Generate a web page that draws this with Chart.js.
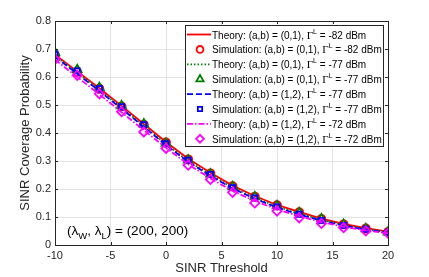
<!DOCTYPE html>
<html>
<head>
<meta charset="utf-8">
<script src="https://cdn.jsdelivr.net/npm/chart.js@4.4.1/dist/chart.umd.min.js"></script>
<style>
  html, body { margin: 0; padding: 0; background: #fff; }
  #wrap { width: 429px; height: 277px; }
</style>
</head>
<body>
<div id="wrap"><canvas id="c" width="429" height="277"></canvas></div>
<script>
// SINR thresholds (dB)
const thresholds = [-10, -8, -6, -4, -2, 0, 2, 4, 6, 8, 10, 12, 14, 16, 18, 20]

// (a,b)=(0,1), Gamma^L = -82 dBm
const theory01_82 = [0.680, 0.620, 0.560, 0.497, 0.432, 0.368, 0.308, 0.258, 0.212, 0.175, 0.143, 0.118, 0.094, 0.075, 0.060, 0.048]
const sim01_82 = [0.678, 0.618, 0.558, 0.495, 0.430, 0.366, 0.306, 0.256, 0.210, 0.173, 0.142, 0.117, 0.093, 0.074, 0.059, 0.047]
// (a,b)=(0,1), -77 dBm
const theory01_77 = [0.675, 0.615, 0.553, 0.490, 0.425, 0.360, 0.300, 0.250, 0.205, 0.168, 0.137, 0.112, 0.090, 0.071, 0.057, 0.045]
const sim01_77 = [0.686, 0.626, 0.562, 0.497, 0.432, 0.363, 0.303, 0.253, 0.208, 0.172, 0.140, 0.115, 0.093, 0.073, 0.058, 0.046]
// (a,b)=(1,2), -77 dBm
const theory12_77 = [0.672, 0.612, 0.550, 0.487, 0.422, 0.357, 0.297, 0.247, 0.202, 0.165, 0.134, 0.109, 0.087, 0.069, 0.055, 0.044]
const sim12_77 = [0.682, 0.622, 0.558, 0.494, 0.430, 0.362, 0.303, 0.252, 0.205, 0.168, 0.136, 0.110, 0.088, 0.070, 0.056, 0.045]
// (a,b)=(1,2), -72 dBm
const theory12_72 = [0.662, 0.600, 0.538, 0.474, 0.410, 0.347, 0.288, 0.238, 0.193, 0.157, 0.127, 0.103, 0.082, 0.065, 0.052, 0.042]
const sim12_72 = [0.663, 0.606, 0.540, 0.476, 0.404, 0.345, 0.285, 0.234, 0.188, 0.150, 0.121, 0.097, 0.077, 0.062, 0.050, 0.042]

const legendTexts = [
    ['Theory: (a,b) = (0,1), ', ' = -82 dBm'],
    ['Simulation: (a,b) = (0,1), ', ' = -82 dBm'],
    ['Theory: (a,b) = (0,1), ', ' = -77 dBm'],
    ['Simulation: (a,b) = (0,1), ', ' = -77 dBm'],
    ['Theory: (a,b) = (1,2), ', ' = -77 dBm'],
    ['Simulation: (a,b) = (1,2), ', ' = -77 dBm'],
    ['Theory: (a,b) = (1,2), ', ' = -72 dBm'],
    ['Simulation: (a,b) = (1,2), ', ' = -72 dBm']
]

const RED = '#ff0000', GREEN = '#008000', BLUE = '#0000ff', MAG = '#ff00ff'
const FONT = '"Liberation Sans", Arial, sans-serif'

function pts(ys) {
    return thresholds.map((x, i) => ({ x: x, y: ys[i] }))
}

function lineSet(label, ys, color, dash) {
    return {
        label: label, data: pts(ys), borderColor: color, backgroundColor: color,
        showLine: true, borderWidth: 1.8, borderDash: dash, pointRadius: 0, tension: 0, fill: false
    }
}

function markSet(label, ys, color, style, r) {
    return {
        label: label, data: pts(ys), borderColor: color, backgroundColor: 'transparent',
        showLine: false, pointStyle: style, pointRadius: r, pointBorderWidth: 1.8,
        pointBorderColor: color, pointBackgroundColor: 'transparent'
    }
}

const datasets = [
    lineSet('theory01_82', theory01_82, RED, []),
    markSet('sim01_82', sim01_82, RED, 'circle', 4),
    lineSet('theory01_77', theory01_77, GREEN, [1.5, 2]),
    markSet('sim01_77', sim01_77, GREEN, 'triangle', 5),
    lineSet('theory12_77', theory12_77, BLUE, [6, 3]),
    markSet('sim12_77', sim12_77, BLUE, 'rect', 3.6),
    lineSet('theory12_72', theory12_72, MAG, [6, 2, 1.5, 2]),
    markSet('sim12_72', sim12_72, MAG, 'rectRot', 4.6)
]
// first dataset drawn at the bottom, like matlab
datasets.forEach((d, i) => { d.order = datasets.length - i })

// box, inner ticks, annotation and legend
const extras = {
    id: 'extras',
    afterDraw(chart) {
        const ctx = chart.ctx
        const a = chart.chartArea
        const xs = chart.scales.x, ys = chart.scales.y
        ctx.save()

        // axes box
        ctx.strokeStyle = '#262626'
        ctx.lineWidth = 1
        ctx.setLineDash([])
        ctx.strokeRect(Math.round(a.left) + 0.5, Math.round(a.top) + 0.5,
            Math.round(a.right - a.left), Math.round(a.bottom - a.top))

        // inward tick marks
        ctx.beginPath()
        xs.ticks.forEach(t => {
            const px = Math.round(xs.getPixelForValue(t.value)) + 0.5
            ctx.moveTo(px, a.bottom); ctx.lineTo(px, a.bottom - 3)
            ctx.moveTo(px, a.top); ctx.lineTo(px, a.top + 3)
        })
        ys.ticks.forEach(t => {
            const py = Math.round(ys.getPixelForValue(t.value)) + 0.5
            ctx.moveTo(a.left, py); ctx.lineTo(a.left + 3, py)
            ctx.moveTo(a.right, py); ctx.lineTo(a.right - 3, py)
        })
        ctx.stroke()

        // (lambda_W, lambda_L) = (200, 200)
        ctx.fillStyle = '#000'
        ctx.textBaseline = 'alphabetic'
        let x = 67, y = 235
        const put = (s, f, dy) => {
            ctx.font = f
            ctx.fillText(s, x, y + (dy || 0))
            x += ctx.measureText(s).width
        }
        put('(', '13.5px ' + FONT)
        put('λ', '13.5px ' + FONT)
        put('W', '9.5px ' + FONT, 4)
        put(', ', '13.5px ' + FONT)
        put('λ', '13.5px ' + FONT)
        put('L', '9.5px ' + FONT, 4)
        put(') = (200, 200)', '13.5px ' + FONT)

        // legend
        const lx = 185.5, ly = 25.5, lw = 198, lh = 121
        ctx.fillStyle = '#fff'
        ctx.fillRect(lx, ly, lw, lh)
        ctx.strokeStyle = '#262626'
        ctx.lineWidth = 1
        ctx.strokeRect(lx, ly, lw, lh)

        legendTexts.forEach((txt, i) => {
            const ds = datasets[i]
            const cy = 34.5 + i * 14.9
            ctx.strokeStyle = ds.borderColor
            ctx.lineWidth = 1.8
            if (ds.showLine === false) {
                ctx.fillStyle = 'rgba(0,0,0,0)'
                Chart.helpers.drawPoint(ctx, {
                    pointStyle: ds.pointStyle, radius: ds.pointRadius * 0.85,
                    rotation: 0, borderWidth: 1.8
                }, 200, cy)
            } else {
                ctx.setLineDash(ds.borderDash)
                ctx.beginPath()
                ctx.moveTo(187, cy); ctx.lineTo(211, cy)
                ctx.stroke()
                ctx.setLineDash([])
            }
            ctx.fillStyle = '#000'
            x = 212; y = cy + 4
            put(txt[0], '10px ' + FONT)
            put('Γ', '11px "Liberation Serif", "DejaVu Serif", serif')
            put('L', '7px ' + FONT, -5)
            put(txt[1], '10px ' + FONT)
        })

        ctx.restore()
    }
}

new Chart(document.getElementById('c'), {
    type: 'scatter',
    data: { datasets: datasets },
    plugins: [extras],
    options: {
        responsive: false,
        animation: false,
        layout: { padding: { top: 21, right: 41, left: 0, bottom: 0 } },
        plugins: { legend: { display: false }, tooltip: { enabled: false } },
        scales: {
            x: {
                type: 'linear', min: -10, max: 20,
                ticks: { stepSize: 5, color: '#262626', font: { family: FONT, size: 11 }, padding: 4 },
                grid: { color: '#e3e3e3', drawTicks: false },
                border: { display: false },
                title: { display: true, text: 'SINR Threshold', color: '#262626', font: { family: FONT, size: 13 }, padding: { top: 0, bottom: 1 } },
                afterFit(s) { s.height = 32 }
            },
            y: {
                type: 'linear', min: 0, max: 0.8,
                ticks: {
                    stepSize: 0.1, color: '#262626', font: { family: FONT, size: 11 }, padding: 4,
                    callback: v => (Math.round(v * 10) / 10).toString()
                },
                grid: { color: '#e3e3e3', drawTicks: false },
                border: { display: false },
                title: { display: true, text: 'SINR Coverage Probability', color: '#262626', font: { family: FONT, size: 13 }, padding: { top: 18, bottom: 0 } },
                afterFit(s) { s.width = 55 }
            }
        }
    }
})
</script>
</body>
</html>
